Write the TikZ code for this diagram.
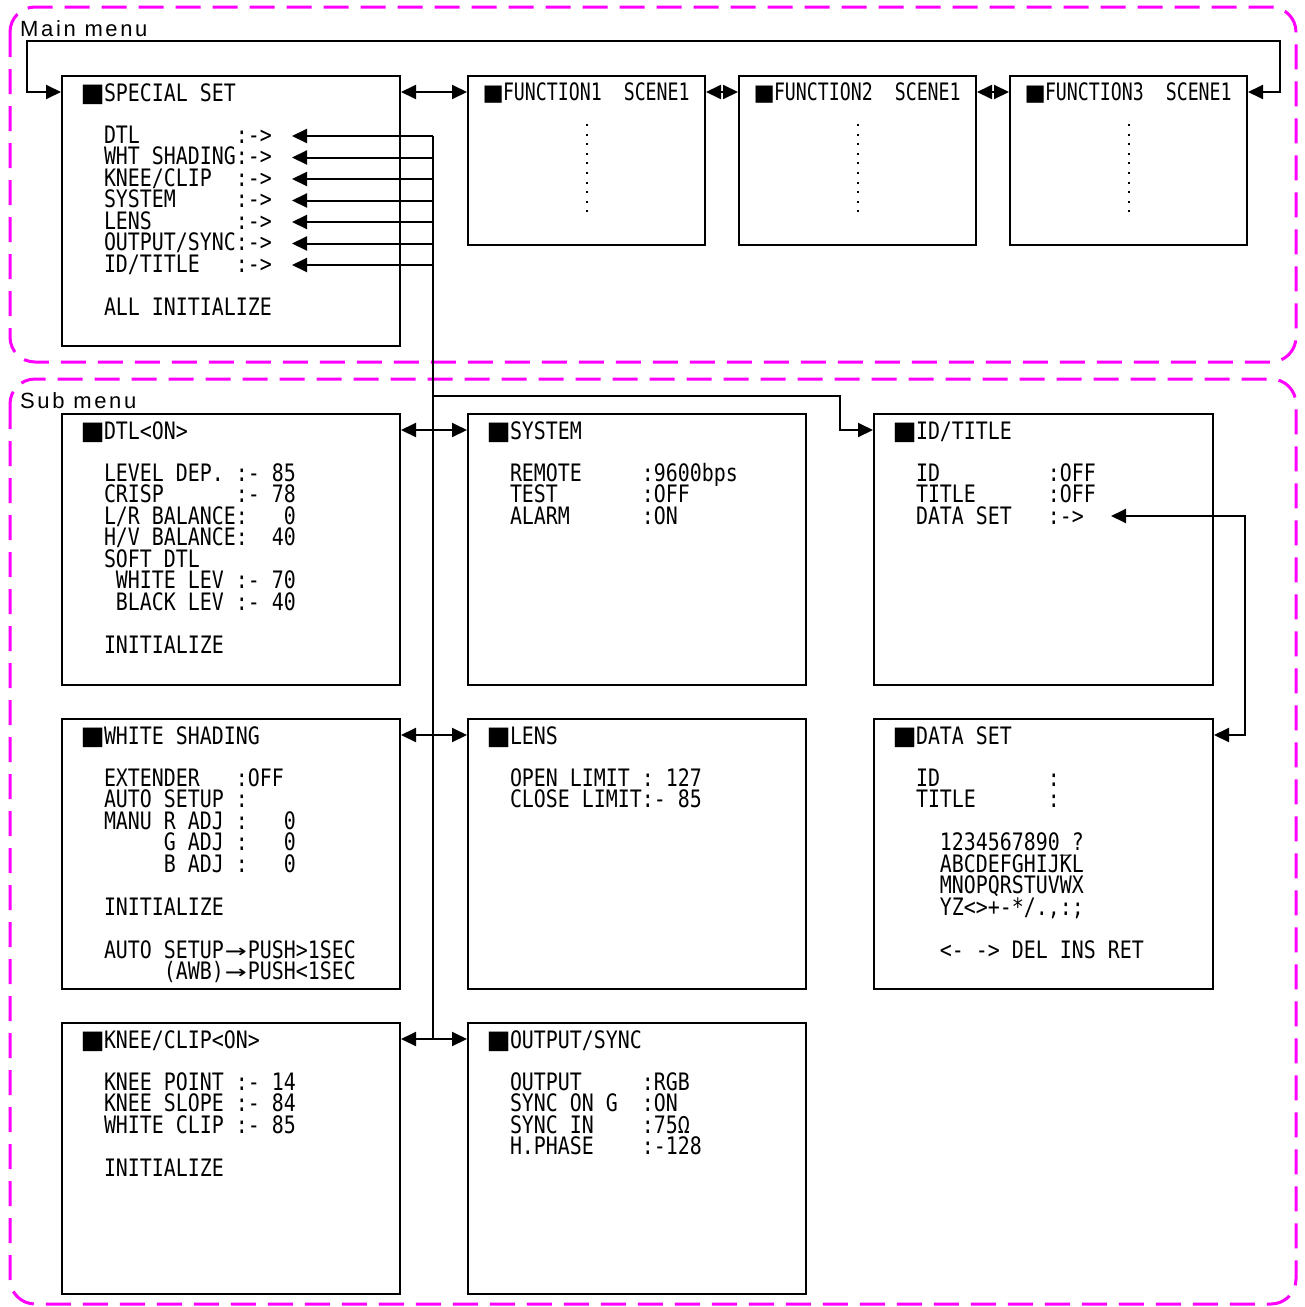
\documentclass[tikz,border=0pt]{standalone}
\usepackage{fontspec}
\usepackage{graphicx}
\usetikzlibrary{arrows.meta}
\definecolor{mg}{RGB}{255,0,255}
\newfontfamily\monof[FakeStretch=0.83]{DejaVu Sans Mono}
\newfontfamily\monofn[FakeStretch=0.76]{DejaVu Sans Mono}
\newfontfamily\sqfont{DejaVu Sans}
\newfontfamily\labfont[LetterSpace=12]{Liberation Sans}
\newcommand\mtxt{\monof\fontsize{24}{21.5}\selectfont}
\newcommand\ftxt{\monofn\fontsize{24}{21.5}\selectfont}
\newcommand\sq[2]{\makebox[#1][l]{\hspace*{-2.5pt}{\sqfont\fontsize{#2}{#2}\selectfont ■}}}
\newcommand\rw[1]{\hbox{#1}}
\newcommand\blk[1]{\vtop{\lineskiplimit=-1000pt\baselineskip=21.5pt #1}}
\newcommand\arw{\makebox[24pt]{\scalebox{1.8}[1]{→}}}
\tikzset{
  box/.style={draw, line width=2pt, anchor=north west, inner sep=0pt},
  mbox/.style={box, minimum width=338pt, minimum height=270pt},
  fbox/.style={box, minimum width=237pt, minimum height=169pt},
  txt/.style={anchor=base west, inner sep=0pt, outer sep=0pt, font=\mtxt},
  ftx/.style={anchor=base west, inner sep=0pt, outer sep=0pt, font=\ftxt},
  lab/.style={anchor=base west, inner sep=0pt, font=\labfont\fontsize{22}{22}\selectfont},
  mag/.style={draw=mg, line width=3pt, dash pattern=on 25pt off 12pt, rounded corners=25pt},
  Tr/.tip={Triangle[length=15pt,width=14pt]},
  conn/.style={line width=2pt},
  one/.style={conn, -{Tr}},
  two/.style={conn, {Tr}-{Tr}},
  dots/.style={line width=2pt, dash pattern=on 2pt off 7.6pt}
}
\begin{document}
\begin{tikzpicture}[x=1pt, y=-1pt]
\useasboundingbox (0,0) rectangle (1305,1307);
% group frames
\draw[mag] (10,7) rectangle (1296,362);
\draw[mag] (10,379) rectangle (1296,1304);
\node[lab] (mainlab) at (20,36) {Main menu};
\node[lab] (sublab) at (20,408) {Sub menu};

% main menu boxes
\node[mbox] (sp) at (61,75) {};
\node[fbox] (f1) at (467,75) {};
\node[fbox] (f2) at (738,75) {};
\node[fbox] (f3) at (1009,75) {};

\node[txt] (sp-h) at ([shift={(22,26)}]sp.north west) {\sq{21pt}{25.5}SPECIAL~SET};
\node[txt] (sp-c) at ([shift={(43,68)}]sp.north west) {\blk{%
\rw{DTL~~~~~~~~:->}
\rw{WHT~SHADING:->}
\rw{KNEE/CLIP~~:->}
\rw{SYSTEM~~~~~:->}
\rw{LENS~~~~~~~:->}
\rw{OUTPUT/SYNC:->}
\rw{ID/TITLE~~~:->}
\rw{}
\rw{ALL~INITIALIZE}}};

\node[ftx] (f1-h) at ([shift={(18,25)}]f1.north west) {\sq{18pt}{22.5}FUNCTION1~~SCENE1};
\node[ftx] (f2-h) at ([shift={(18,25)}]f2.north west) {\sq{18pt}{22.5}FUNCTION2~~SCENE1};
\node[ftx] (f3-h) at ([shift={(18,25)}]f3.north west) {\sq{18pt}{22.5}FUNCTION3~~SCENE1};
\foreach \f in {f1,f2,f3}
  \draw[dots] ([yshift=-49pt]\f.north) -- ([yshift=-138pt]\f.north);

% main menu connectors
\draw[two] ([yshift=-17pt]sp.north east) -- ([yshift=-17pt]f1.north west);
\draw[two] ([yshift=-17pt]f1.north east) -- ([yshift=-17pt]f2.north west);
\draw[two] ([yshift=-17pt]f2.north east) -- ([yshift=-17pt]f3.north west);
\coordinate (loopR) at (1280,41);
\coordinate (loopL) at (27,41);
\draw[two] ([yshift=-17pt]f3.north east) -| (loopR) -- (loopL) |- ([yshift=-17pt]sp.north west);

% sub menu boxes
\node[mbox, minimum height=271pt] (dtl) at (61,413) {};
\node[mbox, minimum height=271pt] (sys) at (467,413) {};
\node[mbox, minimum height=271pt, minimum width=339pt] (idt) at (873,413) {};
\node[mbox] (whs) at (61,718) {};
\node[mbox] (lens) at (467,718) {};
\node[mbox, minimum width=339pt] (dset) at (873,718) {};
\node[mbox, minimum height=271pt] (knee) at (61,1022) {};
\node[mbox, minimum height=271pt] (outs) at (467,1022) {};

\node[txt] (dtl-h) at ([shift={(22,26)}]dtl.north west) {\sq{21pt}{25.5}DTL<ON>};
\node[txt] (dtl-c) at ([shift={(43,68)}]dtl.north west) {\blk{%
\rw{LEVEL~DEP.~:-~85}
\rw{CRISP~~~~~~:-~78}
\rw{L/R~BALANCE:~~~0}
\rw{H/V~BALANCE:~~40}
\rw{SOFT~DTL}
\rw{~WHITE~LEV~:-~70}
\rw{~BLACK~LEV~:-~40}
\rw{}
\rw{INITIALIZE}}};

\node[txt] (sys-h) at ([shift={(22,26)}]sys.north west) {\sq{21pt}{25.5}SYSTEM};
\node[txt] (sys-c) at ([shift={(43,68)}]sys.north west) {\blk{%
\rw{REMOTE~~~~~:9600bps}
\rw{TEST~~~~~~~:OFF}
\rw{ALARM~~~~~~:ON}}};

\node[txt] (idt-h) at ([shift={(22,26)}]idt.north west) {\sq{21pt}{25.5}ID/TITLE};
\node[txt] (idt-c) at ([shift={(43,68)}]idt.north west) {\blk{%
\rw{ID~~~~~~~~~:OFF}
\rw{TITLE~~~~~~:OFF}
\rw{DATA~SET~~~:->}}};

\node[txt] (whs-h) at ([shift={(22,26)}]whs.north west) {\sq{21pt}{25.5}WHITE~SHADING};
\node[txt] (whs-c) at ([shift={(43,68)}]whs.north west) {\blk{%
\rw{EXTENDER~~~:OFF}
\rw{AUTO~SETUP~:}
\rw{MANU~R~ADJ~:~~~0}
\rw{~~~~~G~ADJ~:~~~0}
\rw{~~~~~B~ADJ~:~~~0}
\rw{}
\rw{INITIALIZE}
\rw{}
\rw{AUTO~SETUP\arw PUSH>1SEC}
\rw{~~~~~(AWB)\arw PUSH<1SEC}}};

\node[txt] (lens-h) at ([shift={(22,26)}]lens.north west) {\sq{21pt}{25.5}LENS};
\node[txt] (lens-c) at ([shift={(43,68)}]lens.north west) {\blk{%
\rw{OPEN~LIMIT~:~127}
\rw{CLOSE~LIMIT:-~85}}};

\node[txt] (dset-h) at ([shift={(22,26)}]dset.north west) {\sq{21pt}{25.5}DATA~SET};
\node[txt] (dset-c) at ([shift={(43,68)}]dset.north west) {\blk{%
\rw{ID~~~~~~~~~:}
\rw{TITLE~~~~~~:}
\rw{}
\rw{~~1234567890\_?}
\rw{~~ABCDEFGHIJKL}
\rw{~~MNOPQRSTUVWX}
\rw{~~YZ<>+-*/.,:;}
\rw{}
\rw{~~<-~->~DEL~INS~RET}}};

\node[txt] (knee-h) at ([shift={(22,26)}]knee.north west) {\sq{21pt}{25.5}KNEE/CLIP<ON>};
\node[txt] (knee-c) at ([shift={(43,68)}]knee.north west) {\blk{%
\rw{KNEE~POINT~:-~14}
\rw{KNEE~SLOPE~:-~84}
\rw{WHITE~CLIP~:-~85}
\rw{}
\rw{INITIALIZE}}};

\node[txt] (outs-h) at ([shift={(22,26)}]outs.north west) {\sq{21pt}{25.5}OUTPUT/SYNC};
\node[txt] (outs-c) at ([shift={(43,68)}]outs.north west) {\blk{%
\rw{OUTPUT~~~~~:RGB}
\rw{SYNC~ON~G~~:ON}
\rw{SYNC~IN~~~~:75Ω}
\rw{H.PHASE~~~~:-128}}};

% bus from sub menus to SPECIAL SET entries
\coordinate (busT) at (432.5,136);
\coordinate (busB) at (432.5,1039);
\draw[conn] (busT) -- (busB);
\foreach \i in {0,...,6} {
  \coordinate (b\i) at (432.5,136+21.5*\i);
  \coordinate (s\i) at (292,136+21.5*\i);
  \draw[one] (b\i) -- (s\i);
}
\draw[two] ([yshift=-17pt]dtl.north east) -- ([yshift=-17pt]sys.north west);
\draw[two] ([yshift=-17pt]whs.north east) -- ([yshift=-17pt]lens.north west);
\draw[two] ([yshift=-17pt]knee.north east) -- ([yshift=-17pt]outs.north west);
\coordinate (bj) at (432.5,396);
\coordinate (kn) at (840,430);
\draw[one] (bj) -| (kn) -- ([yshift=-17pt]idt.north west);
% DATA SET link
\coordinate (dtip) at (1111,516);
\coordinate (rj) at (1245,516);
\draw[two] (dtip) -- (rj) |- ([yshift=-17pt]dset.north east);
\end{tikzpicture}
\end{document}
